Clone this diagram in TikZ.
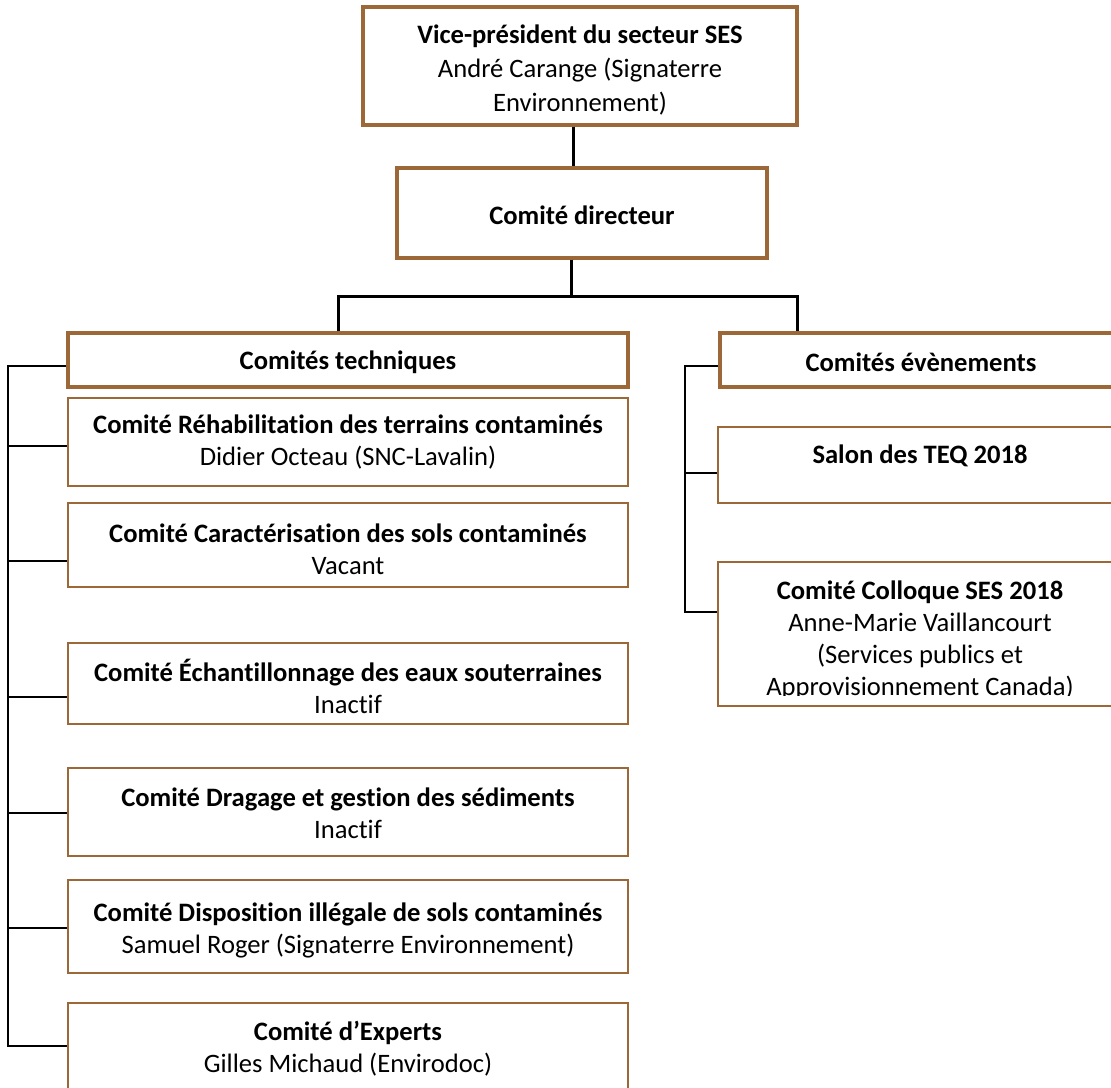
\documentclass[tikz,border=0pt]{standalone}
\usepackage{fontspec}
\setmainfont[Ligatures=NoCommon]{Carlito}
\definecolor{boxbrown}{RGB}{156,104,56}
\begin{document}
\begin{tikzpicture}[x=1pt,y=-1pt,
  txt/.style={font=\fontsize{26.6}{32}\selectfont, align=center, inner sep=0pt},
  thickbox/.style={draw=boxbrown, line width=3.2pt, fill=white, inner sep=0pt},
  thinbox/.style={draw=boxbrown, line width=1.6pt, fill=white, inner sep=0pt},
  bigconn/.style={draw=black, line width=3pt},
  smallconn/.style={draw=black, line width=1.6pt}]
\clip (0,0) rectangle (1111,1087);
\fill[white] (0,0) rectangle (1111,1087);

\coordinate (vpb) at (573,125);
\coordinate (bar) at (571,296);
\coordinate (barL) at (338,296);
\coordinate (barR) at (797,296);

% top boxes
\node[thickbox, minimum width=434pt, minimum height=118pt] (vp) at (580,66) {};
\node[txt, font=\fontsize{26.6}{34}\selectfont] at (580,70) {\textbf{Vice-président du secteur SES}\\André Carange (Signaterre\\Environnement)};

\node[thickbox, minimum width=370pt, minimum height=90pt] (dir) at (582,213) {};
\node[txt] at (582,215) {\textbf{Comité directeur}};

% left column
\node[thickbox, minimum width=560pt, minimum height=54pt] (tech) at (348,360) {};
\node[txt] at (348,362) {\textbf{Comités techniques}};

\node[thinbox, minimum width=560pt, minimum height=88pt] (rehab) at (348,442) {};
\node[txt] at (348,442) {\textbf{Comité Réhabilitation des terrains contaminés}\\Didier Octeau (SNC-Lavalin)};

\node[thinbox, minimum width=560pt, minimum height=84pt] (carac) at (348,545) {};
\node[txt] at (348,549) {\textbf{Comité Caractérisation des sols contaminés}\\Vacant};

\node[thinbox, minimum width=560pt, minimum height=81pt] (echan) at (348,683.5) {};
\node[txt] at (348,686) {\textbf{Comité Échantillonnage des eaux souterraines}\\Inactif};

\node[thinbox, minimum width=560pt, minimum height=88pt] (drag) at (348,812) {};
\node[txt] at (348,813) {\textbf{Comité Dragage et gestion des sédiments}\\Inactif};

\node[thinbox, minimum width=560pt, minimum height=93pt] (disp) at (348,926.5) {};
\node[txt] at (348,930) {\textbf{Comité Disposition illégale de sols contaminés}\\Samuel Roger (Signaterre Environnement)};

\node[thinbox, minimum width=560pt, minimum height=100pt] (expe) at (348,1053) {};
\node[txt] at (348,1049) {\textbf{Comité d’Experts}\\Gilles Michaud (Envirodoc)};

% right column
\node[thickbox, minimum width=404pt, minimum height=54pt] (even) at (922,360) {};
\node[txt] at (921,362) {\textbf{Comités évènements}};

\node[thinbox, minimum width=404pt, minimum height=76pt] (salon) at (920,465) {};
\node[txt] at (920,456) {\textbf{Salon des TEQ 2018}};

\node[thinbox, minimum width=404pt, minimum height=144pt] (coll) at (920,634) {};
\begin{scope}
\clip (718,560) rectangle (1122,695);
\node[txt] at (920,640) {\textbf{Comité Colloque SES 2018}\\Anne-Marie Vaillancourt\\(Services publics et\\Approvisionnement Canada)};
\end{scope}

% upper connectors
\draw[bigconn] (vp.south -| vpb) -- (dir.north -| vpb);
\draw[bigconn] (dir.south -| bar) -- (bar);
\draw[bigconn] (tech.north -| barL) -- (barL) -- (barR) -- (even.north -| barR);

% left bracket
\coordinate (l1) at (8,366);
\coordinate (l2) at (8,446);
\coordinate (l3) at (8,561);
\coordinate (l4) at (8,697);
\coordinate (l5) at (8,813);
\coordinate (l6) at (8,928);
\coordinate (l7) at (8,1046);
\draw[smallconn] (l1 -| tech.west) -- (l1) -- (l7) -- (l7 -| expe.west);
\draw[smallconn] (l2) -- (l2 -| rehab.west);
\draw[smallconn] (l3) -- (l3 -| carac.west);
\draw[smallconn] (l4) -- (l4 -| echan.west);
\draw[smallconn] (l5) -- (l5 -| drag.west);
\draw[smallconn] (l6) -- (l6 -| disp.west);

% right bracket
\coordinate (r1) at (685,366);
\coordinate (r2) at (685,473);
\coordinate (r3) at (685,612);
\draw[smallconn] (r1 -| even.west) -- (r1) -- (r3) -- (r3 -| coll.west);
\draw[smallconn] (r2) -- (r2 -| salon.west);
\end{tikzpicture}
\end{document}
